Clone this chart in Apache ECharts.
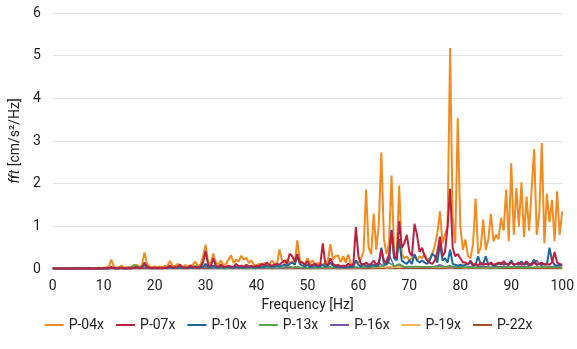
<!DOCTYPE html>
<html>
<head>
<meta charset="utf-8">
<script src="https://cdn.jsdelivr.net/npm/echarts@6/dist/echarts.min.js"></script>
<style>
  html, body { margin: 0; padding: 0; background: #fff; }
  #chart { width: 577px; height: 349px; }
</style>
</head>
<body>
<div id="chart"></div>
<script>
// frequency steps (Hz): fine grid 0.5 Hz, coarse grid 1 Hz
var freqFine = [];
for (var i = 0; i <= 200; i++) freqFine.push(i / 2);
var freqCoarse = [];
for (var j = 0; j <= 100; j++) freqCoarse.push(j);

var seriesNames = ['P-04x', 'P-07x', 'P-10x', 'P-13x', 'P-16x', 'P-19x', 'P-22x'];
var xTicks = [0, 10, 20, 30, 40, 50, 60, 70, 80, 90, 100];
var yTicks = [0, 1, 2, 3, 4, 5, 6];

// 0.5 Hz resolution
var p04x = [
  0.01, 0.01, 0.01, 0.01, 0.02, 0.01, 0.01, 0.02, 0.01, 0.02,
  0.03, 0.01, 0.02, 0.01, 0.03, 0.01, 0.02, 0.02, 0.03, 0.02,
  0.03, 0.04, 0.06, 0.22, 0.05, 0.03, 0.04, 0.08, 0.03, 0.04,
  0.05, 0.04, 0.06, 0.10, 0.05, 0.08, 0.39, 0.12, 0.06, 0.05,
  0.06, 0.04, 0.06, 0.05, 0.07, 0.06, 0.19, 0.08, 0.06, 0.12,
  0.08, 0.05, 0.09, 0.06, 0.07, 0.10, 0.17, 0.07, 0.10, 0.30,
  0.57, 0.15, 0.12, 0.36, 0.15, 0.10, 0.20, 0.09, 0.12, 0.22,
  0.32, 0.14, 0.22, 0.18, 0.31, 0.22, 0.26, 0.14, 0.20, 0.10,
  0.08, 0.12, 0.10, 0.14, 0.12, 0.10, 0.20, 0.12, 0.10, 0.46,
  0.20, 0.14, 0.22, 0.15, 0.18, 0.12, 0.67, 0.22, 0.15, 0.12,
  0.25, 0.14, 0.20, 0.10, 0.14, 0.12, 0.10, 0.14, 0.20, 0.58,
  0.22, 0.30, 0.32, 0.16, 0.30, 0.15, 0.34, 0.12, 0.10, 0.20,
  0.14, 0.25, 0.40, 1.86, 0.50, 0.35, 1.30, 0.45, 1.04, 2.73,
  0.70, 0.35, 0.60, 2.19, 0.40, 0.30, 1.95, 0.35, 0.25, 0.30,
  0.20, 0.25, 0.30, 0.20, 0.30, 0.25, 0.35, 0.20, 0.25, 0.35,
  0.55, 0.85, 1.35, 0.60, 0.80, 1.00, 5.18, 1.20, 0.60, 3.53,
  1.00, 0.45, 0.69, 0.30, 0.25, 0.60, 1.65, 0.35, 0.50, 1.16,
  0.45, 0.70, 1.29, 0.65, 0.80, 0.70, 1.20, 0.90, 1.86, 0.65,
  2.48, 0.80, 1.90, 1.00, 2.03, 0.75, 1.70, 0.90, 1.86, 2.81,
  0.80, 1.30, 2.95, 0.60, 1.76, 1.10, 1.62, 0.65, 1.82, 0.80,
  1.35
];
var p07x = [
  0.01, 0.01, 0.01, 0.01, 0.01, 0.01, 0.01, 0.01, 0.01, 0.01,
  0.01, 0.01, 0.01, 0.01, 0.02, 0.01, 0.01, 0.01, 0.02, 0.01,
  0.02, 0.02, 0.02, 0.05, 0.02, 0.02, 0.02, 0.03, 0.02, 0.02,
  0.02, 0.02, 0.03, 0.04, 0.02, 0.03, 0.15, 0.05, 0.03, 0.02,
  0.03, 0.02, 0.03, 0.02, 0.03, 0.03, 0.08, 0.03, 0.04, 0.05,
  0.10, 0.03, 0.04, 0.03, 0.08, 0.04, 0.05, 0.03, 0.06, 0.15,
  0.42, 0.10, 0.06, 0.25, 0.08, 0.05, 0.10, 0.05, 0.06, 0.08,
  0.06, 0.05, 0.12, 0.06, 0.08, 0.05, 0.10, 0.06, 0.08, 0.05,
  0.08, 0.06, 0.12, 0.08, 0.15, 0.10, 0.08, 0.10, 0.12, 0.10,
  0.15, 0.20, 0.12, 0.36, 0.30, 0.18, 0.35, 0.15, 0.15, 0.10,
  0.18, 0.08, 0.10, 0.12, 0.08, 0.10, 0.60, 0.12, 0.10, 0.25,
  0.12, 0.08, 0.10, 0.06, 0.08, 0.07, 0.12, 0.08, 0.10, 0.98,
  0.30, 0.12, 0.10, 0.15, 0.10, 0.12, 0.20, 0.10, 0.15, 0.45,
  0.20, 0.15, 0.30, 0.90, 0.30, 0.25, 1.12, 0.50, 0.60, 0.80,
  0.40, 0.30, 1.06, 0.80, 0.40, 0.50, 0.30, 0.20, 0.15, 0.12,
  0.20, 0.40, 0.76, 0.30, 0.40, 1.00, 1.88, 0.50, 0.30, 0.35,
  0.25, 0.15, 0.15, 0.10, 0.20, 0.10, 0.12, 0.08, 0.15, 0.10,
  0.12, 0.10, 0.15, 0.10, 0.12, 0.15, 0.10, 0.18, 0.12, 0.10,
  0.15, 0.10, 0.12, 0.15, 0.10, 0.12, 0.18, 0.10, 0.12, 0.15,
  0.10, 0.12, 0.15, 0.10, 0.12, 0.10, 0.15, 0.40, 0.15, 0.12,
  0.10
];
var p10x = [
  0.01, 0.01, 0.01, 0.01, 0.01, 0.01, 0.01, 0.01, 0.01, 0.01,
  0.01, 0.01, 0.01, 0.01, 0.01, 0.01, 0.01, 0.01, 0.01, 0.01,
  0.01, 0.01, 0.02, 0.03, 0.02, 0.01, 0.02, 0.02, 0.01, 0.02,
  0.02, 0.02, 0.03, 0.05, 0.02, 0.03, 0.12, 0.04, 0.02, 0.02,
  0.02, 0.02, 0.02, 0.02, 0.03, 0.02, 0.05, 0.02, 0.03, 0.03,
  0.04, 0.02, 0.03, 0.02, 0.04, 0.03, 0.05, 0.02, 0.04, 0.06,
  0.12, 0.05, 0.04, 0.08, 0.04, 0.03, 0.05, 0.03, 0.04, 0.05,
  0.04, 0.03, 0.05, 0.04, 0.05, 0.03, 0.05, 0.04, 0.05, 0.03,
  0.04, 0.04, 0.06, 0.05, 0.08, 0.06, 0.05, 0.06, 0.08, 0.06,
  0.08, 0.10, 0.08, 0.12, 0.15, 0.10, 0.30, 0.12, 0.08, 0.06,
  0.10, 0.05, 0.06, 0.08, 0.05, 0.06, 0.10, 0.06, 0.08, 0.15,
  0.08, 0.05, 0.06, 0.04, 0.05, 0.04, 0.06, 0.05, 0.06, 0.20,
  0.10, 0.06, 0.12, 0.08, 0.06, 0.08, 0.10, 0.06, 0.10, 0.50,
  0.12, 0.10, 0.20, 0.92, 0.25, 0.20, 0.70, 0.20, 0.15, 0.12,
  0.20, 0.12, 0.35, 0.20, 0.15, 0.20, 0.15, 0.12, 0.20, 0.36,
  0.30, 0.15, 0.60, 0.20, 0.25, 0.15, 0.45, 0.12, 0.10, 0.08,
  0.10, 0.08, 0.10, 0.12, 0.15, 0.08, 0.10, 0.30, 0.10, 0.12,
  0.30, 0.10, 0.12, 0.08, 0.10, 0.12, 0.15, 0.10, 0.12, 0.10,
  0.20, 0.10, 0.12, 0.10, 0.18, 0.10, 0.12, 0.10, 0.12, 0.22,
  0.10, 0.12, 0.10, 0.12, 0.10, 0.50, 0.20, 0.10, 0.08, 0.10,
  0.08
];
// 1 Hz resolution
var p13x = [
  0.01, 0.01, 0.01, 0.01, 0.01, 0.01, 0.01, 0.01, 0.01, 0.01,
  0.01, 0.02, 0.02, 0.04, 0.02, 0.02, 0.10, 0.03, 0.10, 0.03,
  0.02, 0.03, 0.02, 0.04, 0.03, 0.03, 0.02, 0.03, 0.08, 0.03,
  0.10, 0.04, 0.03, 0.03, 0.02, 0.03, 0.04, 0.03, 0.03, 0.02,
  0.03, 0.03, 0.04, 0.03, 0.04, 0.03, 0.08, 0.04, 0.05, 0.03,
  0.04, 0.03, 0.03, 0.04, 0.06, 0.03, 0.04, 0.03, 0.04, 0.05,
  0.04, 0.05, 0.04, 0.05, 0.06, 0.08, 0.15, 0.06, 0.12, 0.05,
  0.06, 0.05, 0.06, 0.05, 0.04, 0.06, 0.05, 0.05, 0.08, 0.05,
  0.04, 0.04, 0.03, 0.04, 0.03, 0.04, 0.03, 0.04, 0.03, 0.04,
  0.05, 0.04, 0.03, 0.04, 0.03, 0.05, 0.04, 0.05, 0.04, 0.04,
  0.03
];
var p16x = [
  0.01, 0.01, 0.01, 0.01, 0.01, 0.01, 0.01, 0.01, 0.01, 0.01,
  0.01, 0.01, 0.01, 0.02, 0.01, 0.01, 0.03, 0.02, 0.04, 0.02,
  0.02, 0.02, 0.02, 0.03, 0.02, 0.03, 0.02, 0.02, 0.03, 0.02,
  0.05, 0.02, 0.02, 0.02, 0.02, 0.02, 0.03, 0.02, 0.02, 0.02,
  0.02, 0.02, 0.03, 0.02, 0.03, 0.02, 0.04, 0.03, 0.05, 0.02,
  0.03, 0.02, 0.03, 0.03, 0.05, 0.03, 0.03, 0.02, 0.03, 0.04,
  0.03, 0.05, 0.04, 0.05, 0.15, 0.06, 0.35, 0.06, 0.10, 0.04,
  0.05, 0.06, 0.05, 0.04, 0.05, 0.06, 0.10, 0.05, 0.06, 0.04,
  0.05, 0.04, 0.05, 0.04, 0.06, 0.05, 0.04, 0.06, 0.05, 0.06,
  0.05, 0.06, 0.05, 0.06, 0.08, 0.20, 0.06, 0.05, 0.06, 0.05,
  0.04
];
var p19x = [
  0.01, 0.01, 0.01, 0.01, 0.01, 0.01, 0.01, 0.01, 0.01, 0.01,
  0.01, 0.02, 0.01, 0.02, 0.01, 0.02, 0.02, 0.02, 0.05, 0.02,
  0.02, 0.02, 0.02, 0.03, 0.02, 0.02, 0.02, 0.02, 0.03, 0.02,
  0.06, 0.03, 0.02, 0.02, 0.03, 0.02, 0.03, 0.02, 0.02, 0.02,
  0.02, 0.03, 0.02, 0.03, 0.02, 0.04, 0.03, 0.03, 0.05, 0.03,
  0.03, 0.02, 0.03, 0.03, 0.04, 0.03, 0.03, 0.03, 0.04, 0.03,
  0.03, 0.04, 0.04, 0.03, 0.05, 0.04, 0.06, 0.04, 0.05, 0.04,
  0.04, 0.05, 0.04, 0.04, 0.05, 0.04, 0.05, 0.04, 0.06, 0.04,
  0.04, 0.03, 0.04, 0.03, 0.04, 0.03, 0.04, 0.03, 0.04, 0.04,
  0.05, 0.04, 0.04, 0.05, 0.04, 0.05, 0.04, 0.04, 0.05, 0.04,
  0.03
];
var p22x = [
  0.01, 0.01, 0.01, 0.01, 0.01, 0.01, 0.01, 0.01, 0.01, 0.01,
  0.01, 0.01, 0.01, 0.01, 0.01, 0.01, 0.01, 0.01, 0.02, 0.01,
  0.01, 0.01, 0.01, 0.01, 0.01, 0.01, 0.01, 0.01, 0.01, 0.01,
  0.02, 0.01, 0.01, 0.01, 0.01, 0.01, 0.01, 0.01, 0.01, 0.01,
  0.01, 0.01, 0.01, 0.01, 0.01, 0.01, 0.02, 0.01, 0.02, 0.01,
  0.01, 0.01, 0.01, 0.01, 0.02, 0.01, 0.01, 0.01, 0.01, 0.02,
  0.01, 0.02, 0.01, 0.02, 0.02, 0.02, 0.03, 0.02, 0.02, 0.02,
  0.02, 0.02, 0.02, 0.02, 0.02, 0.02, 0.02, 0.02, 0.03, 0.02,
  0.02, 0.02, 0.02, 0.02, 0.02, 0.02, 0.02, 0.02, 0.02, 0.02,
  0.02, 0.02, 0.02, 0.02, 0.02, 0.02, 0.02, 0.02, 0.02, 0.02,
  0.02
];

var colors = ['#F28C22', '#B8213F', '#1F669B', '#53A548', '#7A56A6', '#F5B55E', '#A3532A'];
var widths = [2, 2, 2, 1.5, 1.5, 1.5, 1.5];

function pairs(xs, ys) {
  var res = [];
  for (var k = 0; k < ys.length; k++) res.push([xs[k], ys[k]]);
  return res;
}

var seriesData = [
  pairs(freqFine, p04x),
  pairs(freqFine, p07x),
  pairs(freqFine, p10x),
  pairs(freqCoarse, p13x),
  pairs(freqCoarse, p16x),
  pairs(freqCoarse, p19x),
  pairs(freqCoarse, p22x)
];

var FONT = "Roboto, 'Noto Sans', sans-serif";

var series = seriesNames.map(function (name, i) {
  return {
    name: name,
    type: 'line',
    symbol: 'none',
    z: 10 - i,
    lineStyle: { color: colors[i], width: widths[i] },
    itemStyle: { color: colors[i] },
    data: seriesData[i]
  };
});
// the big orange one sits behind the others
series[0].z = 2;

var myChart = echarts.init(document.getElementById('chart'));
var option = {
  animation: false,
  color: colors,
  grid: { left: 49, right: 13, top: 13, bottom: 80 },
  legend: {
    bottom: 12,
    left: 'center',
    icon: 'rect',
    itemWidth: 19,
    itemHeight: 2,
    itemGap: 12,
    textStyle: { fontFamily: FONT, fontSize: 14, color: '#222' },
    data: seriesNames
  },
  xAxis: {
    type: 'value',
    min: xTicks[0],
    max: xTicks[xTicks.length - 1],
    interval: 10,
    name: 'Frequency [Hz]',
    nameLocation: 'middle',
    nameGap: 29,
    nameTextStyle: { fontFamily: FONT, fontSize: 14, color: '#222' },
    axisLine: { show: true, lineStyle: { color: '#d9d9d9' } },
    axisTick: { show: false },
    splitLine: { show: false },
    axisLabel: { fontFamily: FONT, fontSize: 14, color: '#222', margin: 10 }
  },
  yAxis: {
    type: 'value',
    min: yTicks[0],
    max: yTicks[yTicks.length - 1],
    interval: 1,
    name: '{i|fft} [cm/s²/Hz]',
    nameLocation: 'middle',
    nameGap: 27,
    nameTextStyle: {
      fontFamily: FONT, fontSize: 14, color: '#222',
      rich: { i: { fontStyle: 'italic', fontFamily: FONT, fontSize: 14, color: '#222' } }
    },
    axisLine: { show: false },
    axisTick: { show: false },
    splitLine: { lineStyle: { color: '#e3e3e3' } },
    axisLabel: { fontFamily: FONT, fontSize: 14, color: '#222', margin: 12 }
  },
  series: series
};
myChart.setOption(option);
</script>
</body>
</html>
